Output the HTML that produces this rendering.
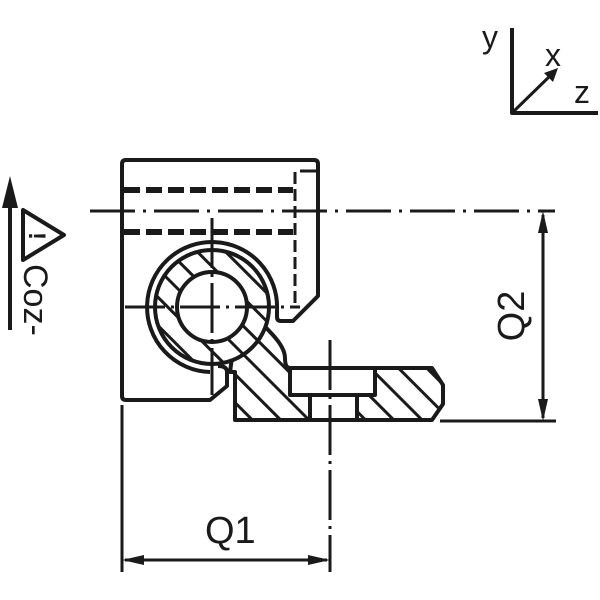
<!DOCTYPE html>
<html><head><style>body{margin:0;background:#fff}svg{display:block}</style></head><body>
<svg width="600" height="600" viewBox="0 0 600 600" xmlns="http://www.w3.org/2000/svg" font-family="Liberation Sans, DejaVu Sans, sans-serif">
<defs>
<pattern id="h" patternUnits="userSpaceOnUse" width="20" height="20" patternTransform="rotate(-45)">
<rect width="20" height="20" fill="#fff"/><line x1="0" y1="0" x2="0" y2="20" stroke="#1a1a1a" stroke-width="6"/>
</pattern>
<clipPath id="ann"><path fill-rule="evenodd" d="M212 250a57 57 0 1 0 0.01 0zM212 272a35 35 0 1 0 0.01 0z"/></clipPath>
</defs>
<g fill="none" stroke="#1a1a1a" stroke-linejoin="round">
<!-- body -->
<path stroke-width="4" d="M126 160H314Q318 160 318 164V296L293 321H281Q277 321 277 317V310"/>
<path stroke-width="4" d="M122 164Q122 160 126 160M122 164V396Q122 400 126 400H210L227 386V372Q227 366 218 366"/>
<!-- dashed -->
<line x1="124" y1="190" x2="293" y2="190" stroke-width="6" stroke-dasharray="16,6"/>
<line x1="124" y1="232" x2="293" y2="232" stroke-width="6" stroke-dasharray="16,6"/>
<line x1="295" y1="172" x2="295" y2="308" stroke-width="3" stroke-dasharray="12,5"/>
<line x1="300" y1="171" x2="318" y2="171" stroke-width="3"/>
<!-- ring -->
<path stroke-width="4" d="M277 310A65 65 0 1 0 210 372"/>
<!-- lever hatched -->
<path fill="url(#h)" stroke-width="4" d="M235 372V420H432L443 404V385L432 368H290Q285 368 285 358Q285 348 272 334L240 300L230 372Z"/>
<rect x="150" y="245" width="125" height="125" fill="url(#h)" stroke="none" clip-path="url(#ann)"/>
<circle cx="212" cy="307" r="57" stroke-width="4"/>
<circle cx="212" cy="307" r="35" stroke-width="4" fill="#fff"/>
<rect x="290" y="368" width="85" height="27" stroke-width="4" fill="#fff"/>
<rect x="310" y="395" width="47" height="25" stroke-width="4" fill="#fff"/>
<!-- center lines -->
<line x1="90" y1="211" x2="555" y2="211" stroke-width="3" stroke-dasharray="45,8,3,8"/>
<line x1="212" y1="218" x2="212" y2="395" stroke-width="3" stroke-dasharray="50,6,3,6"/>
<line x1="125" y1="307" x2="300" y2="307" stroke-width="3" stroke-dasharray="40,6,3,6"/>
<line x1="330" y1="340" x2="330" y2="572" stroke-width="3" stroke-dasharray="50,6,3,6"/>
<!-- dims -->
<line x1="440" y1="421" x2="556" y2="421" stroke-width="3"/>
<line x1="543" y1="215" x2="543" y2="418" stroke-width="3"/>
<line x1="122" y1="405" x2="122" y2="572" stroke-width="3"/>
<line x1="125" y1="560" x2="327" y2="560" stroke-width="3"/>
<!-- axes -->
<path stroke-width="4" d="M512 28V113H598"/>
<line x1="512" y1="113" x2="552" y2="74" stroke-width="3"/>
<!-- left symbol -->
<line x1="10" y1="200" x2="10" y2="330" stroke-width="4"/>
<path stroke-width="4" d="M23 210V260L64 235Z"/>
</g>
<g fill="#1a1a1a">
<path d="M543 211l-5 22h10z M543 421l-5-22h10z M122 560l22-5v10z M330 560l-22-5v10z M558 68l-14 5 9 9z M10 176l-8 32h16z"/>
<text x="482" y="48" font-size="32">y</text>
<text x="545" y="66" font-size="32">x</text>
<text x="574" y="103" font-size="32">z</text>
<text x="205" y="543" font-size="38">Q1</text>
<text transform="translate(524,316) rotate(-90)" text-anchor="middle" font-size="38">Q2</text>
<text transform="translate(29,236) rotate(90)" text-anchor="middle" font-size="24" font-weight="bold">!</text>
<text transform="translate(24,264) rotate(90)" font-size="34">Coz-</text>
</g>
</svg>
</body></html>
